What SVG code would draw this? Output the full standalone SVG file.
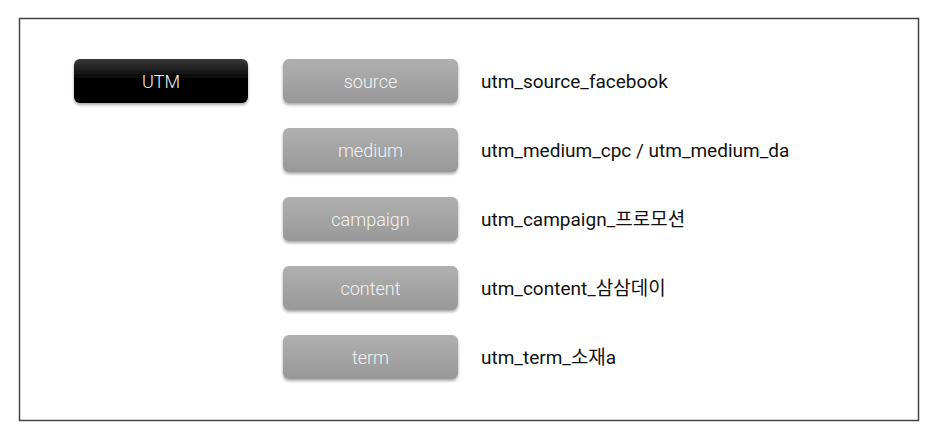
<svg xmlns="http://www.w3.org/2000/svg" width="936" height="440" viewBox="0 0 936 440">
<defs>
<linearGradient id="gBlack" x1="0" y1="0" x2="0" y2="1">
<stop offset="0" stop-color="#3a3a3a"/>
<stop offset="0.45" stop-color="#050505"/>
<stop offset="1" stop-color="#000"/>
</linearGradient>
<linearGradient id="gGray" x1="0" y1="0" x2="0" y2="1">
<stop offset="0" stop-color="#b0b0b0"/>
<stop offset="1" stop-color="#989898"/>
</linearGradient>
<filter id="sh" x="-10%" y="-20%" width="120%" height="160%">
<feGaussianBlur in="SourceAlpha" stdDeviation="1.5"/>
<feOffset dy="2" result="b"/>
<feComponentTransfer><feFuncA type="linear" slope="0.35"/></feComponentTransfer>
<feMerge><feMergeNode/><feMergeNode in="SourceGraphic"/></feMerge>
</filter>
</defs>
<style>
.btn{font-family:Roboto,"Noto Sans",sans-serif;font-size:18px;font-weight:300;fill:#f4f4f4;text-anchor:middle;dominant-baseline:central}
.val{font-family:Roboto,"Noto Sans CJK KR",sans-serif;font-size:19px;fill:#111;dominant-baseline:central}
.gray{fill:url(#gGray);filter:url(#sh)}
</style>
<rect x="19.5" y="18.5" width="899" height="402" fill="#fff" stroke="#444" stroke-width="1.5"/>
<g id="utm">
<rect x="74" y="59" width="174" height="44" rx="6" fill="url(#gBlack)" filter="url(#sh)"/>
<text class="btn" x="161" y="81">UTM</text>
</g>
<g id="source">
<rect class="gray" x="283" y="59" width="175" height="44" rx="6"/>
<text class="btn" x="370.5" y="81">source</text>
<text class="val" x="481" y="81">utm_source_facebook</text>
</g>
<g id="medium">
<rect class="gray" x="283" y="128" width="175" height="44" rx="6"/>
<text class="btn" x="370.5" y="150">medium</text>
<text class="val" x="481" y="150">utm_medium_cpc / utm_medium_da</text>
</g>
<g id="campaign">
<rect class="gray" x="283" y="197" width="175" height="44" rx="6"/>
<text class="btn" x="370.5" y="219">campaign</text>
<text class="val" x="481" y="219">utm_campaign_프로모션</text>
</g>
<g id="content">
<rect class="gray" x="283" y="266" width="175" height="44" rx="6"/>
<text class="btn" x="370.5" y="288">content</text>
<text class="val" x="481" y="288">utm_content_삼삼데이</text>
</g>
<g id="term">
<rect class="gray" x="283" y="335" width="175" height="44" rx="6"/>
<text class="btn" x="370.5" y="357">term</text>
<text class="val" x="481" y="357">utm_term_소재a</text>
</g>
<g id="connectors"></g>
</svg>
